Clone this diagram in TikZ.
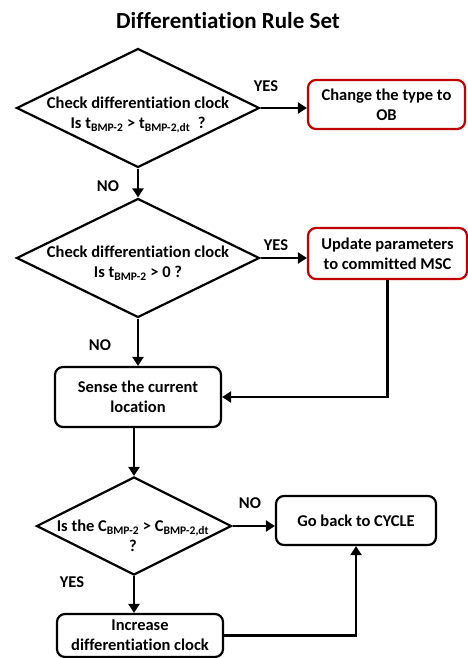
\documentclass[tikz,border=0pt]{standalone}
\usepackage{fontspec}
\setmainfont[Ligatures=NoCommon]{Carlito}
\usetikzlibrary{shapes.geometric,arrows.meta}
\definecolor{boxred}{RGB}{192,0,0}
\begin{document}
\begin{tikzpicture}[x=1pt,y=-1pt,>={Triangle[length=9pt,width=11pt]},
  line width=2.2pt,
  font=\fontsize{16.5}{20}\selectfont\bfseries,
  decision/.style={draw,diamond,minimum width=243pt,minimum height=119pt,inner sep=0pt},
  process/.style={draw,rounded corners=8pt,align=center,inner sep=0pt},
  redbox/.style={process,draw=boxred}]
\useasboundingbox (0,0) rectangle (468,658);

\node[font=\fontsize{23}{26}\selectfont\bfseries] (title) at (228,21) {Differentiation Rule Set};

\node[decision] (d1) at (138,108) {};
\node[align=center] (d1text) at (138,115)
{Check differentiation clock\\Is t\textsubscript{BMP-2} > t\textsubscript{BMP-2,dt}\ \ ?};
\node[redbox,minimum width=157pt,minimum height=49pt] (b1) at (386.5,104.5)
{Change the type to\\OB};

\node[decision] (d2) at (138,258) {};
\node[align=center] (d2text) at (138,263)
{Check differentiation clock\\Is t\textsubscript{BMP-2} > 0 ?};
\node[redbox,minimum width=159pt,minimum height=51pt] (b2) at (387.5,253.5)
{Update parameters\\to committed MSC};

\node[process,minimum width=166pt,minimum height=60pt] (b3) at (138,397)
{Sense the current\\location};

\node[decision,minimum width=195pt,minimum height=98pt] (d3) at (134,526) {};
\node[align=center] (d3text) at (133,536)
{Is the C\textsubscript{BMP-2} > C\textsubscript{BMP-2,dt}\\?};
\node[process,minimum width=160pt,minimum height=49pt] (b4) at (356,520.5)
{Go back to CYCLE};
\node[process,minimum width=166pt,minimum height=43pt] (b5) at (140,635.5)
{Increase\\differentiation clock};

\node (yes1) at (266,86) {YES};
\node (no1) at (108,186) {NO};
\node (yes2) at (276,245) {YES};
\node (no2) at (100,345) {NO};
\node (no3) at (250,503) {NO};
\node (yes3) at (72,582) {YES};

\draw[->] (d1.east) -- (d1.east -| b1.west);
\draw[->] (d1.south) -- (d2.north);
\draw[->] (d2.east) -- (d2.east -| b2.west);
\draw[->] (d2.south) -- (b3.north);
\draw[->] (b2.south) |- (b3.east);
\draw[->] (d3.north |- b3.south) -- (d3.north);
\draw[->] (d3.east) -- (d3.east -| b4.west);
\draw[->] (d3.south) -- (d3.south |- b5.north);
\draw[->] (b5.east) -| (b4.south);
\end{tikzpicture}
\end{document}
